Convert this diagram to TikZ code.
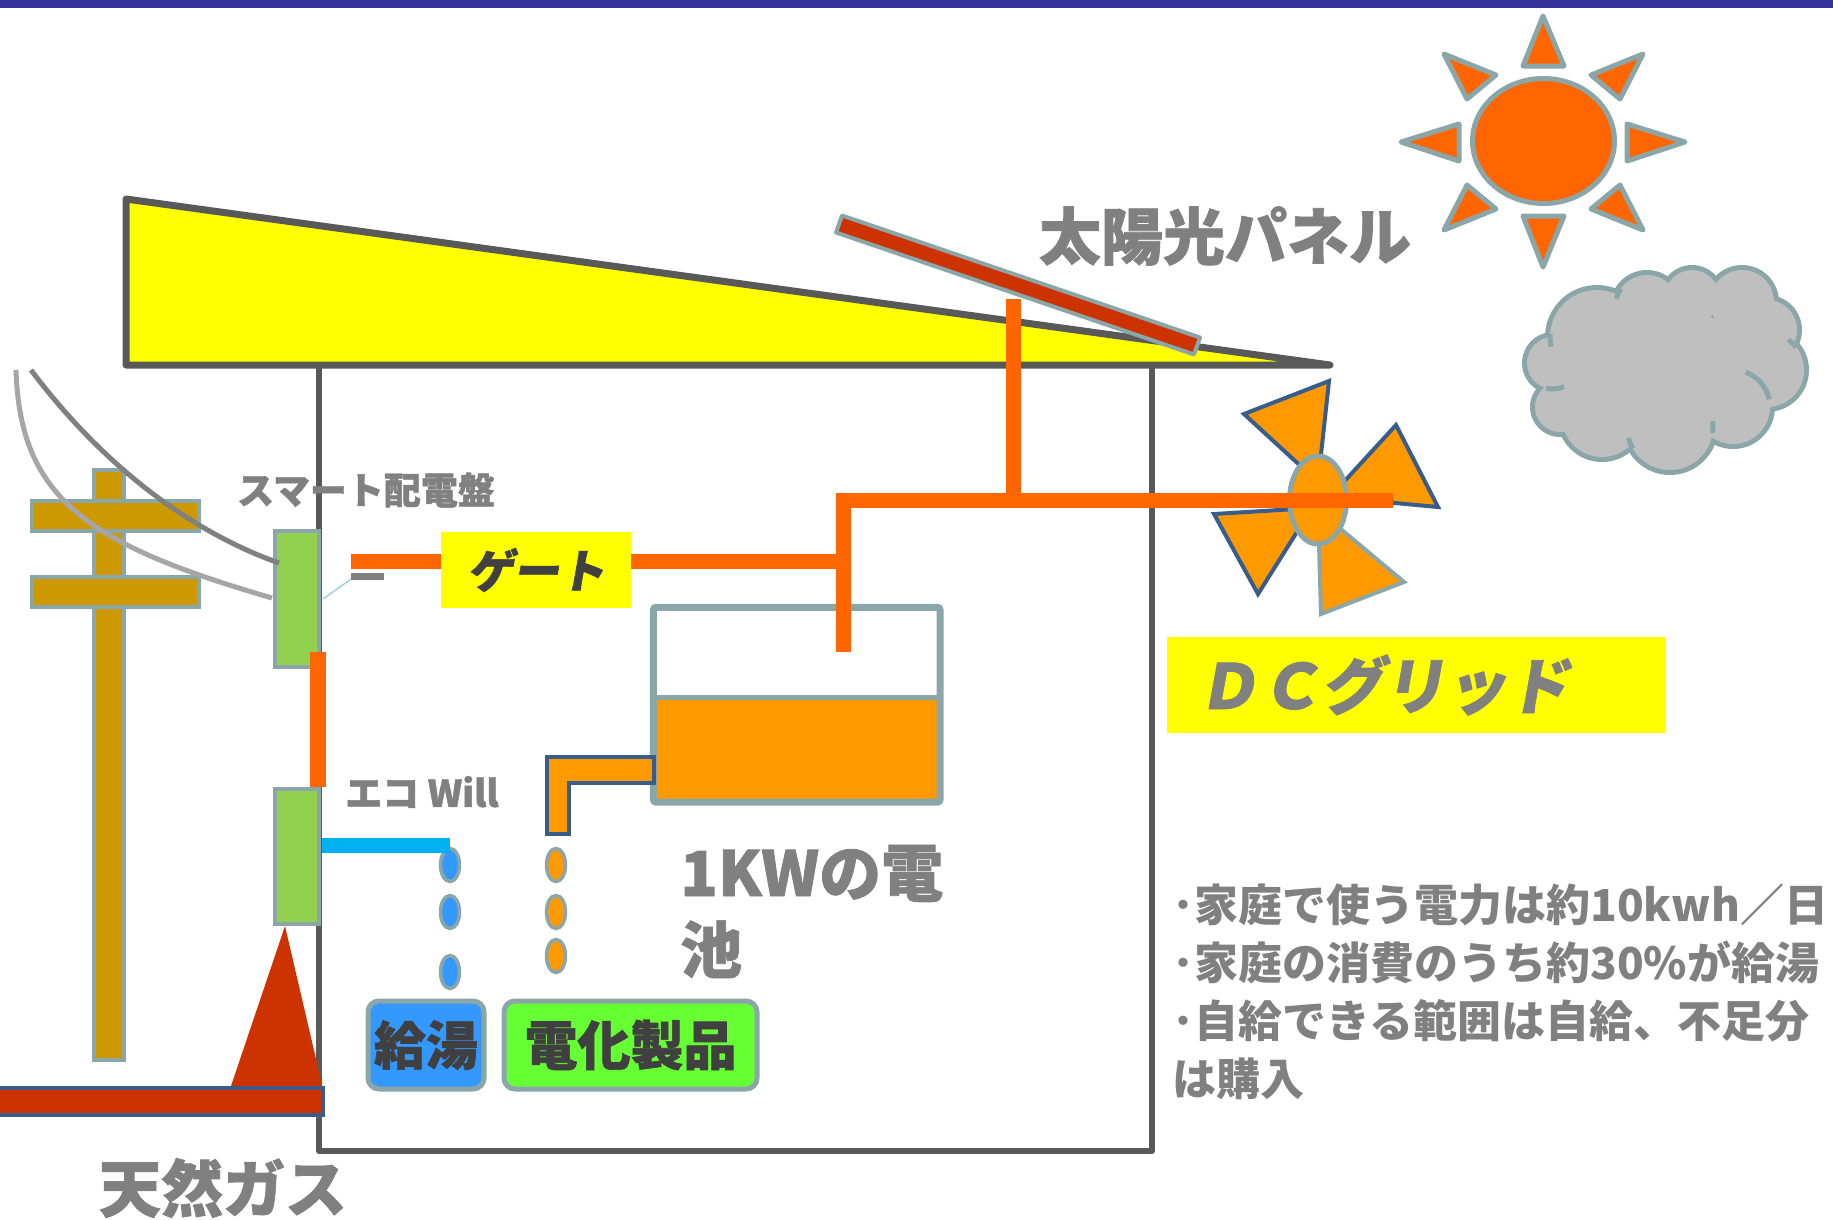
\documentclass[tikz,border=0pt]{standalone}
\usepackage{fontspec}
\setmainfont{Noto Sans CJK JP}
\newfontfamily\popfont{Noto Sans CJK JP}[FakeBold=1.2]
\newfontfamily\popslant{Noto Sans CJK JP}[FakeSlant=0.18, FakeBold=1.2]
\usetikzlibrary{shapes.geometric}
\newcommand\jfs[1]{\fontsize{#1}{#1}\selectfont}

\definecolor{barblue}{RGB}{51,51,153}
\definecolor{wallgray}{RGB}{89,89,89}
\definecolor{roofyellow}{RGB}{255,255,0}
\definecolor{panelred}{RGB}{204,51,0}
\definecolor{rimgray}{RGB}{139,166,168}
\definecolor{powerorange}{RGB}{255,102,0}
\definecolor{liteorange}{RGB}{255,153,0}
\definecolor{boardgreen}{RGB}{146,208,80}
\definecolor{polegold}{RGB}{204,153,0}
\definecolor{pipeblue}{RGB}{0,176,240}
\definecolor{dropblue}{RGB}{51,153,255}
\definecolor{limegreen}{RGB}{102,255,51}
\definecolor{darktext}{RGB}{64,64,64}
\definecolor{graytext}{RGB}{128,128,128}
\definecolor{cloudgray}{RGB}{191,191,191}
\definecolor{edgeblue}{RGB}{56,93,138}
\definecolor{wirelight}{RGB}{166,166,166}
\definecolor{thinblue}{RGB}{160,210,225}

\tikzset{
  wall/.style={draw=wallgray, line width=6pt, line join=round, line cap=round},
  roof/.style={draw=wallgray, fill=roofyellow, line width=7pt, line join=round},
  rimbox/.style={rectangle, draw=rimgray, line width=4pt, inner sep=0pt},
  power/.style={draw=powerorange, line width=15pt},
  hotwater/.style={draw=pipeblue, line width=15pt},
  wire/.style={line width=5pt},
  drop/.style={ellipse, draw=rimgray, line width=3.5pt, minimum width=19pt, minimum height=33pt, inner sep=0pt},
  appbox/.style={rectangle, draw=rimgray, line width=5pt, rounded corners=11pt, inner sep=0pt, text=darktext, font=\popfont\bfseries},
  sunray/.style={fill=powerorange, draw=rimgray, line width=5pt, line join=round},
  blade/.style={fill=liteorange, draw=edgeblue, line width=4pt, line join=miter},
  cloudline/.style={draw=rimgray, line width=5pt},
  poptext/.style={inner sep=0pt, text=graytext, font=\popfont\bfseries},
  tagbox/.style={rectangle, fill=roofyellow, inner sep=0pt},
}

\begin{document}
\begin{tikzpicture}[x=1pt,y=-1pt]
\useasboundingbox (0,0) rectangle (1833,1219);
\fill[white] (0,0) rectangle (1833,1219);

% title bar
\fill[barblue] (0,0) rectangle (1833,8);

% house walls and roof
\draw[wall] (319,365) -- (319,1151) -- (1152,1151) -- (1152,365);
\draw[roof] (126,199) -- (1330,365) -- (126,365) -- cycle;

% gas supply cone
\fill[panelred] (230,1089) -- (285,926) -- (323,1089) -- cycle;

% utility pole
\node[rimbox, fill=polegold, minimum width=30pt, minimum height=590pt] (pole) at (109,765) {};
\node[rimbox, fill=polegold, minimum width=167pt, minimum height=30pt] (arm1) at (115.5,516) {};
\node[rimbox, fill=polegold, minimum width=167pt, minimum height=30pt] (arm2) at (115.5,592) {};

% smart switchboard and eco-will unit
\node[rimbox, fill=boardgreen, minimum width=44pt, minimum height=136pt] (smart) at (297,599) {};
\node[rimbox, fill=boardgreen, minimum width=44pt, minimum height=135pt] (eco) at (297,856.5) {};

% service wires
\coordinate (wireAin) at (31,370);
\coordinate (wireAend) at (279,563);
\coordinate (wireBin) at (16,370);
\coordinate (wireBend) at (272,598);
\draw[wire, draw=graytext] (wireAin) .. controls (110,475) and (200,535) .. (wireAend);
\draw[wire, draw=wirelight] (wireBin) .. controls (20,500) and (90,545) .. (wireBend);

% small tap beside the switchboard
\coordinate (tapA) at (323,599);
\coordinate (tapB) at (351,579);
\draw[thinblue, line width=1.5pt] (tapA) -- (tapB);
\fill[graytext] (351,573) rectangle (384,580);

% battery
\node[rectangle, fill=white, minimum width=286.5pt, minimum height=194.5pt, inner sep=0pt] (bat) at (796.75,704.75) {};
\fill[liteorange] (657,697) rectangle (936.5,801);
\draw[draw=rimgray, line width=7pt, rounded corners=3pt] (bat.south west) rectangle (bat.north east);
\draw[draw=rimgray, line width=5pt] (bat.west |- 0,697) -- (bat.east |- 0,697);

% battery outlet pipe
\draw[fill=liteorange, draw=edgeblue, line width=4pt] (547,757) -- (654,757) -- (654,783) -- (569,783) -- (569,834) -- (547,834) -- cycle;

% drops
\node[drop, fill=dropblue] (hw1) at (450,865) {};
\node[drop, fill=dropblue] (hw2) at (450,912) {};
\node[drop, fill=dropblue] (hw3) at (450,972) {};
\node[drop, fill=liteorange] (el1) at (556,865) {};
\node[drop, fill=liteorange] (el2) at (556,912) {};
\node[drop, fill=liteorange] (el3) at (556,956) {};

% appliances
\node[appbox, fill=dropblue, minimum width=116pt, minimum height=88pt, font=\popfont\bfseries\jfs{52}] (kyuto) at (426,1045) {給湯};
\node[appbox, fill=limegreen, minimum width=253pt, minimum height=88pt, font=\popfont\bfseries\jfs{53}] (denka) at (630.5,1045) {電化製品};

% wind turbine
\fill[blade] (1329,381) -- (1244,414) -- (1318,482) -- cycle;
\fill[blade] (1396,425) -- (1438,507) -- (1330,497) -- cycle;
\fill[blade] (1214,514) -- (1258,594) -- (1312,508) -- cycle;
\fill[blade, draw=rimgray] (1404,582) -- (1321,614) -- (1318,510) -- cycle;
\node[ellipse, fill=liteorange, draw=rimgray, line width=5pt, minimum width=57pt, minimum height=88pt, inner sep=0pt] (hub) at (1318,500) {};

% sun
\fill[sunray] (1543,16) -- (1523,66) -- (1564,66) -- cycle;
\fill[sunray] (1543,267) -- (1523,216) -- (1564,216) -- cycle;
\fill[sunray] (1401,142) -- (1459,124) -- (1459,161) -- cycle;
\fill[sunray] (1685,142) -- (1627,124) -- (1627,161) -- cycle;
\fill[sunray] (1444,54) -- (1496,75) -- (1467,99) -- cycle;
\fill[sunray] (1643,54) -- (1591,75) -- (1620,99) -- cycle;
\fill[sunray] (1444,230) -- (1496,209) -- (1467,185) -- cycle;
\fill[sunray] (1643,230) -- (1591,209) -- (1620,185) -- cycle;
\node[ellipse, fill=powerorange, draw=rimgray, line width=5pt, minimum width=142pt, minimum height=125pt, inner sep=0pt] (sun) at (1543.5,141) {};

% cloud: rim pass, then fill pass
\foreach \cx/\cy/\r in {1553/363/26, 1560/407/25, 1602/417/40, 1670/427/43, 1733/407/37, 1767/370/37, 1767/330/30, 1742/302/32, 1692/297/27, 1647/307/32, 1597/337/47, 1610/370/45, 1720/365/45}
  \fill[rimgray] (\cx,\cy) circle[radius=\r+5];
\foreach \cx/\cy/\r in {1553/363/26, 1560/407/25, 1602/417/40, 1670/427/43, 1733/407/37, 1767/370/37, 1767/330/30, 1742/302/32, 1692/297/27, 1647/307/32, 1597/337/47, 1610/370/45, 1720/365/45}
  \fill[cloudgray] (\cx,\cy) circle[radius=\r];
\fill[cloudgray] (1663,370) ellipse[x radius=100, y radius=60];
\draw[cloudline] (1733,407) ++(-70:37) arc[start angle=-70, end angle=-12, radius=37];
\draw[cloudline] (1597,337) ++(168:47) arc[start angle=168, end angle=184, radius=47];
\draw[cloudline] (1553,363) ++(65:26) arc[start angle=65, end angle=105, radius=26];
\draw[cloudline] (1670,427) ++(150:43) arc[start angle=150, end angle=165, radius=43];
\draw[cloudline] (1670,427) ++(-8:43) arc[start angle=-8, end angle=8, radius=43];
\draw[cloudline] (1767,370) ++(-55:37) arc[start angle=-55, end angle=-38, radius=37];
\draw[cloudline] (1647,307) ++(195:32) arc[start angle=195, end angle=215, radius=32];

% power lines
\coordinate (batIn) at (843,652);
\coordinate (busL) at (843,500);
\coordinate (busR) at (1393,500);
\coordinate (pvTop) at (1013,299);
\coordinate (pvTap) at (1013,500);
\coordinate (gateIn) at (351,561);
\coordinate (gateJoin) at (843,561);
\coordinate (linkTop) at (318,652);
\coordinate (linkBot) at (318,787);
\draw[power] (batIn) -- (busL) -- (busR);
\draw[power] (pvTop) -- (pvTap);
\node[tagbox, minimum width=190pt, minimum height=76pt, text=darktext, font=\popslant\bfseries\jfs{46}] (gate) at (536,570) {ゲート};
\draw[power] (gateIn) -- (gate.west |- gateIn);
\draw[power] (gate.east |- gateJoin) -- (gateJoin);
\draw[power, line width=16pt] (linkTop) -- (linkBot);

% hot water pipe
\coordinate (hwOut) at (322,845);
\draw[hotwater] (hwOut) -- (hw1.north |- hwOut);

% solar panel
\draw[fill=panelred, draw=rimgray, line width=4pt, line join=round] (842,215.5) -- (1200,337.5) -- (1194,354.5) -- (836,232.5) -- cycle;

% gas main
\node[rectangle, fill=panelred, draw=edgeblue, line width=4pt, minimum width=334pt, minimum height=27pt, inner sep=0pt] (gasmain) at (156,1101.5) {};

% DC grid tag
\node[tagbox, minimum width=499pt, minimum height=96pt, text width=439pt, align=left, inner xsep=30pt, text=graytext, font=\popslant\bfseries\jfs{62}] (dcgrid) at (1416.5,685) {ＤＣグリッド};

% labels
\node[poptext, font=\popfont\bfseries\jfs{37}] (smartlbl) at (366,490) {スマート配電盤};
\node[poptext, font=\popfont\bfseries\jfs{37}] (ecolbl) at (422,792) {エコ Will};
\node[poptext, font=\popfont\bfseries\jfs{62}] (pvlbl) at (1225,236) {太陽光パネル};
\node[poptext, font=\popfont\bfseries\jfs{62}] (gaslbl) at (223,1188) {天然ガス};
\node[poptext, anchor=base west, align=left, font=\popfont\bfseries\fontsize{62}{77}\selectfont] (batlbl) at (680,973) {1KWの電\\池};

% notes
\node[inner sep=0pt, anchor=base west, align=left, text=graytext, font=\bfseries\fontsize{44}{58}\selectfont] (notes) at (1172,1095)
  {･家庭で使う電力は約10kwh／日\\･家庭の消費のうち約30\%が給湯\\･自給できる範囲は自給、不足分\\は購入};
\end{tikzpicture}
\end{document}
